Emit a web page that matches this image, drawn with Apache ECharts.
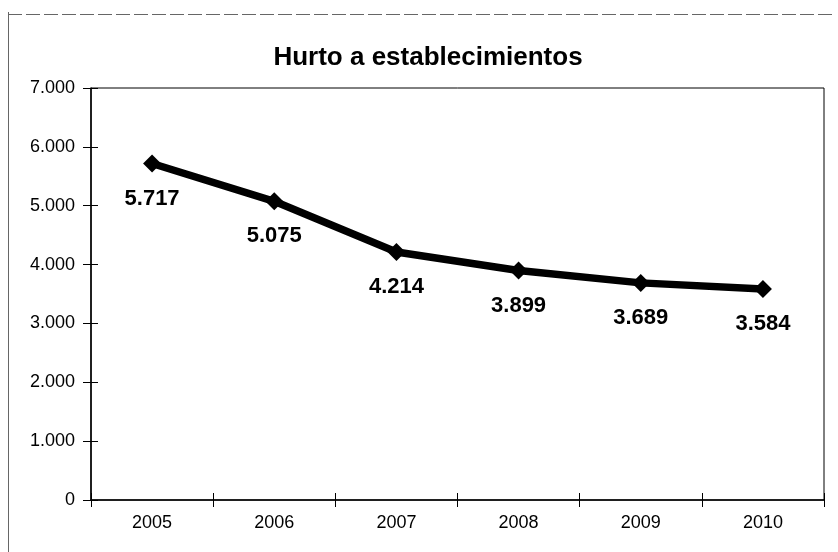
<!DOCTYPE html>
<html>
<head>
<meta charset="utf-8">
<script src="https://cdn.jsdelivr.net/npm/echarts@6/dist/echarts.min.js"></script>
<style>
html,body{margin:0;padding:0;background:#fff;}
#chart{width:838px;height:552px;}
</style>
</head>
<body>
<div id="chart"></div>
<script>
const titleText = 'Hurto a establecimientos';
const categories = ['2005', '2006', '2007', '2008', '2009', '2010'];
const values = [5717, 5075, 4214, 3899, 3689, 3584];
const yTicks = [0, 1000, 2000, 3000, 4000, 5000, 6000, 7000];

function fmt(v) {
  return String(v).replace(/\B(?=(\d{3})+(?!\d))/g, '.');
}
const FF = 'Liberation Sans, Arial, sans-serif';

const chart = echarts.init(document.getElementById('chart'));
const yBase = {
  type: 'value',
  min: yTicks[0],
  max: yTicks[yTicks.length - 1],
  interval: 1000,
  splitLine: { show: false }
};
chart.setOption({
  backgroundColor: '#fff',
  animation: false,
  title: {
    text: titleText,
    left: 423,
    textAlign: 'center',
    top: 40,
    textStyle: { fontFamily: FF, fontSize: 26, fontWeight: 'bold', color: '#000' }
  },
  graphic: [
    { type: 'line', shape: { x1: 8.5, y1: 12, x2: 8.5, y2: 552 }, style: { stroke: '#666', lineWidth: 1 } },
    { type: 'line', shape: { x1: 8, y1: 14.5, x2: 834, y2: 14.5 }, style: { stroke: '#666', lineWidth: 1, lineDash: [14, 4] } }
  ],
  grid: {
    left: 91, right: 14, top: 88, bottom: 52,
    show: true, borderColor: '#000', borderWidth: 1, backgroundColor: 'transparent'
  },
  xAxis: [{
    type: 'category',
    data: categories,
    boundaryGap: true,
    axisLine: { lineStyle: { color: '#000', width: 1.5 } },
    axisTick: { show: true, length: 7, lineStyle: { color: '#000' } },
    axisLabel: { color: '#000', fontSize: 18, fontFamily: FF, margin: 14 }
  }, {
    type: 'category',
    data: categories,
    position: 'bottom',
    boundaryGap: true,
    axisLine: { show: false },
    axisTick: { show: true, inside: true, length: 7, lineStyle: { color: '#000' } },
    axisLabel: { show: false }
  }],
  yAxis: [Object.assign({}, yBase, {
    axisLine: { show: true, lineStyle: { color: '#000', width: 1.5 } },
    axisTick: { show: true, length: 8, lineStyle: { color: '#000' } },
    axisLabel: { color: '#000', fontSize: 18, fontFamily: FF, margin: 16, formatter: v => fmt(v) }
  }), Object.assign({}, yBase, {
    position: 'left',
    axisLine: { show: false },
    axisTick: { show: true, inside: true, length: 7, lineStyle: { color: '#000' } },
    axisLabel: { show: false }
  })],
  series: [{
    type: 'line',
    xAxisIndex: 0,
    yAxisIndex: 0,
    data: values,
    symbol: 'diamond',
    symbolSize: 18,
    itemStyle: { color: '#000' },
    lineStyle: { color: '#000', width: 7.5 },
    label: {
      show: true,
      position: 'bottom',
      distance: 15,
      color: '#000',
      fontSize: 22,
      fontWeight: 'bold',
      fontFamily: FF,
      formatter: p => fmt(p.value)
    }
  }]
});
</script>
</body>
</html>
